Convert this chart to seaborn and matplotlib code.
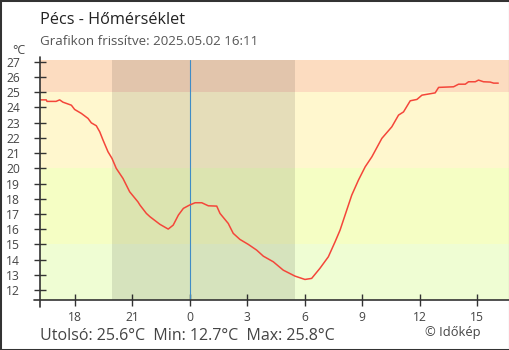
import matplotlib
matplotlib.use("Agg")
import matplotlib.pyplot as plt
import seaborn as sns
import pandas as pd
from matplotlib.lines import Line2D
from matplotlib.patches import Rectangle

# ---- data (hours since previous midnight; 24 = 00:00) ----
hours = [16.23, 16.52, 16.56, 17.03, 17.22, 17.39, 17.83, 18.00, 18.35, 18.70,
         18.87, 19.13, 19.31, 19.48, 19.74, 19.95, 20.17, 20.52, 20.87, 21.30,
         21.41, 21.74, 21.93, 22.45, 22.88, 23.14, 23.41, 23.67, 23.98, 24.28,
         24.63, 24.97, 25.41, 25.58, 26.01, 26.27, 26.62, 27.06, 27.49, 27.84,
         28.36, 28.88, 29.49, 30.01, 30.36, 30.79, 31.23, 31.58, 31.84, 32.19,
         32.45, 32.80, 33.15, 33.50, 34.02, 34.54, 34.89, 35.15, 35.50, 35.85,
         36.11, 36.80, 36.98, 37.76, 38.02, 38.37, 38.54, 38.89, 39.06, 39.32,
         39.67, 39.85, 40.09]
temps = [24.50, 24.50, 24.40, 24.40, 24.50, 24.35, 24.15, 23.87, 23.61, 23.28,
         22.99, 22.80, 22.40, 21.86, 21.09, 20.65, 20.00, 19.34, 18.46, 17.80,
         17.58, 17.04, 16.82, 16.32, 16.01, 16.27, 16.93, 17.37, 17.58, 17.74,
         17.74, 17.54, 17.52, 17.04, 16.38, 15.73, 15.33, 15.00, 14.63, 14.23,
         13.86, 13.31, 12.92, 12.70, 12.77, 13.43, 14.19, 15.17, 15.94, 17.26,
         18.24, 19.23, 20.10, 20.76, 21.97, 22.73, 23.50, 23.71, 24.44, 24.53,
         24.81, 24.96, 25.32, 25.36, 25.53, 25.53, 25.69, 25.69, 25.80, 25.69,
         25.67, 25.60, 25.60]

x_ticks = [18, 21, 24, 27, 30, 33, 36, 39]
x_tick_labels = ["18", "21", "0", "3", "6", "9", "12", "15"]
y_ticks = list(range(12, 28))

band_edges = [11.35, 15, 20, 25, 27.12]
band_colors = ["#EFFDD3", "#F5FEC4", "#FFF7CE", "#FCDCC0"]
night = (19.93, 29.51)
midnight = 24

title = "Pécs - Hőmérséklet"
subtitle = "Grafikon frissítve: 2025.05.02 16:11"
footer = "Utolsó: 25.6°C  Min: 12.7°C  Max: 25.8°C"
credit = "© Időkép"

# ---- style ----
sns.set_theme(style="white")
plt.rcParams["font.family"] = ["Open Sans", "DejaVu Sans"]

W, H = 510, 350
fig = plt.figure(figsize=(W / 100, H / 100), dpi=100)
L, R, T, B = 40.3, 509, 60, 300
ax = fig.add_axes([L / W, 1 - B / H, (R - L) / W, (B - T) / H])

xmin, xmax = 16.21, 40.65
ax.set_xlim(xmin, xmax)
ax.set_ylim(band_edges[0], band_edges[-1])

for lo, hi, c in zip(band_edges[:-1], band_edges[1:], band_colors):
    ax.axhspan(lo, hi, color=c, lw=0, zorder=0)
ax.axvspan(night[0], night[1], color="black", alpha=0.1, lw=0, zorder=1)
ax.axvline(midnight, color="#3F8CC6", lw=0.8, zorder=2)

df = pd.DataFrame({"h": hours, "t": temps})
sns.lineplot(data=df, x="h", y="t", ax=ax, color="#F4463A", linewidth=1.1,
             estimator=None, zorder=3)
ax.set_xlabel("")
ax.set_ylabel("")

for s in ax.spines.values():
    s.set_visible(False)

ax.set_xticks(x_ticks)
ax.set_xticklabels(x_tick_labels)
ax.set_yticks(y_ticks)
ax.set_yticklabels([str(v) for v in y_ticks])
ax.tick_params(axis="both", direction="inout", length=9, width=1.0,
               color="#333333", labelsize=8.7, labelcolor="#444444")
ax.tick_params(axis="y", pad=10, left=True)
ax.tick_params(axis="x", pad=3.5, bottom=True)
ax.grid(False)

# axis lines (extend slightly beyond plot area)
fig.add_artist(Line2D([L / W, L / W], [1 - 56.7 / H, 1 - 306.7 / H],
                      transform=fig.transFigure, color="#333333", lw=1.2))
fig.add_artist(Line2D([34 / W, R / W], [1 - B / H, 1 - B / H],
                      transform=fig.transFigure, color="#333333", lw=1.2))

# texts
fig.text(40.5 / W, 1 - 24.5 / H, title, fontsize=11.7, color="#222222",
         ha="left", va="baseline")
fig.text(40.5 / W, 1 - 45 / H, subtitle, fontsize=9.6, color="#555555",
         ha="left", va="baseline")
fig.text(19 / W, 1 - 51 / H, "°C", fontsize=9, color="#444444",
         ha="center", va="center")
fig.text(40.5 / W, 1 - 339.5 / H, footer, fontsize=11.5, color="#444444",
         ha="left", va="baseline")
fig.text(453 / W, 1 - 336 / H, credit, fontsize=9.3, color="#444444",
         ha="center", va="baseline")

# frame
fig.add_artist(Rectangle((0, 0), 1, 1, transform=fig.transFigure, fill=False,
                         edgecolor="#333333", lw=2.2))

fig.savefig("out.png", dpi=100)
